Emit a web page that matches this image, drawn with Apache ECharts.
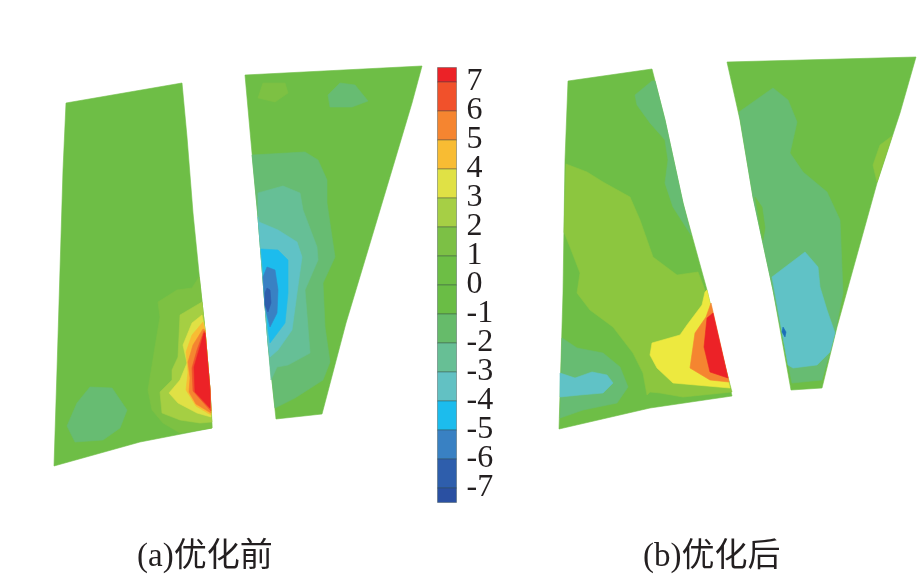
<!DOCTYPE html>
<html><head><meta charset="utf-8">
<style>html,body{margin:0;padding:0;background:#fff}#c{width:922px;height:576px}</style>
<script src="https://cdn.jsdelivr.net/npm/echarts@6/dist/echarts.min.js"></script>
</head><body><div id="c"></div>
<script>
// Contour colours by level
const cBase='#6EBE46', c1='#7DC143', c1b='#8CC63F', c2='#A5CF43', c3='#E0E145', c3b='#EDE93F',
      c4='#F8BC33', c5='#F58530', c6='#F1512B', c7='#EC2227',
      m2='#67BC72', m3='#66BF96', m4='#60C2C6', m5='#1CBCED', m6='#3981C3', m7='#2E5EAC';

// Colour bar
const cellEdges=[7.5,7,6,5,4,3,2,1,0,-1,-2,-3,-4,-5,-6,-7,-7.5];
const cellColors=['#EC2227','#F1512B','#F58530','#F8BC33','#E0E145','#A6CF45','#7CC045','#6DBE45','#6ABD45','#66BB6A','#67BF95','#62C1C3','#1CBCED','#3981C3','#2E5EAC','#2A50A2'];
const tickLabels=[7,6,5,4,3,2,1,0,-1,-2,-3,-4,-5,-6,-7];
const captions=['(a)优化前','(b)优化后'];

// Panel (a), left blade: contour regions as [x,y] in picture units
const a1Outline=[[66,103],[182,83],[187,137],[193,213],[200,283],[205,330],[208,367],[210,390],[212,428],[140,442],[54,466],[57,370],[60,270],[63,170]];
const a1M2=[[90,387],[112,388],[127,410],[120,428],[103,440],[75,442],[67,426],[77,403]];
const a1L1=[[199,277],[192,288],[177,290],[158,302],[160,317],[155,347],[148,390],[152,410],[163,423],[180,433],[212,428],[210,390],[205,330],[200,283]];
const a1L2=[[202,302],[180,315],[178,357],[172,370],[172,380],[160,392],[162,413],[180,420],[200,423],[212,422],[210,390],[205,330]];
const a1L3=[[202,315],[192,323],[183,345],[187,363],[180,380],[169,393],[178,403],[197,413],[211,417],[210,390],[205,330]];
const a1L4=[[203,322],[192,335],[186,352],[188,372],[186,390],[196,406],[211,415],[210,390],[208,367],[205,330]];
const a1L5=[[203,329],[193,345],[188,362],[190,378],[189,392],[196,404],[211,413],[210,390],[208,367],[205,330]];
const a1L6=[[204,331],[197,350],[192,368],[193,391],[211,411],[210,390],[208,367],[205,332]];
const a1L7=[[204,333],[199,350],[194,367],[195,392],[210,408],[210,390],[208,367],[205,333]];

// Panel (a), right blade
const a2Outline=[[245,75],[422,66],[412,103],[395,160],[368,250],[346,323],[322,414],[276,419],[268,343],[258,217],[252,153]];
const a2L1=[[263,83],[285,83],[288,93],[275,102],[258,98]];
const a2M2Top=[[340,83],[355,85],[368,101],[352,107],[330,107],[328,95]];
const a2M2=[[252,155],[305,152],[318,160],[327,180],[327,203],[332,237],[335,257],[323,283],[325,327],[330,362],[323,380],[295,398],[275,408],[268,343],[258,217]];
const a2M3=[[258,193],[283,186],[300,193],[303,210],[317,247],[318,260],[305,290],[310,353],[288,365],[277,367],[271,380],[268,343],[258,217]];
const a2M4=[[259,222],[278,230],[297,242],[302,257],[297,293],[292,330],[278,350],[270,357],[268,343],[258,217]];
const a2M5=[[261,249],[278,250],[288,260],[288,293],[285,323],[270,343],[268,330],[261,249]];
const a2M6=[[267,267],[275,270],[278,290],[277,313],[270,327],[265,307],[263,277]];
const a2M7=[[267,288],[270,290],[271,303],[268,312],[265,305],[265,293]];

// Panel (b), left blade
const b1Outline=[[568,81],[652,69],[665,120],[683,203],[707,290],[732,396],[650,408],[559,429],[563,293],[565,160]];
const b1M2Top=[[652,81],[635,95],[637,105],[650,123],[665,140],[668,160],[665,183],[673,207],[691,235],[683,203],[665,120],[655,81]];
const b1L1=[[566,164],[587,172],[603,182],[630,197],[640,220],[653,257],[677,275],[698,272],[705,290],[732,392],[683,397],[660,393],[650,392],[647,395],[643,373],[633,353],[613,327],[590,310],[577,293],[580,273],[570,247],[564,232]];
const b1M2=[[562,338],[577,348],[603,353],[620,367],[628,387],[617,403],[583,410],[560,418]];
const b1M4=[[560,373],[575,378],[592,372],[607,375],[613,383],[603,393],[580,395],[560,397]];
const b1L3=[[705,292],[702,305],[687,325],[680,335],[652,343],[650,355],[657,368],[673,383],[730,388],[707,290]];
const b1L5=[[711,303],[706,317],[695,333],[690,368],[710,380],[729,382]];
const b1L7=[[713,313],[707,318],[704,347],[710,372],[728,378]];

// Panel (b), right blade
const b2Outline=[[727,62],[916,57],[900,113],[877,183],[837,327],[822,388],[791,390],[773,290],[753,197],[740,120]];
const b2M2=[[773,88],[788,100],[797,122],[790,153],[803,172],[827,192],[840,220],[843,293],[835,333],[822,380],[792,383],[773,290],[753,197],[739,112]];
const b2Strip=[[755,197],[762,207],[765,228],[763,240],[761,232]];
const b2M4=[[805,252],[818,267],[820,287],[827,310],[835,333],[830,352],[817,365],[793,368],[788,365],[772,277]];
const b2Spot=[[783,327],[786,332],[785,337],[782,332]];
const b2L1=[[892,136],[880,145],[873,165],[877,182]];

const regions=[
 [a1Outline,cBase],[a1M2,m2],[a1L1,c1],[a1L2,c2],[a1L3,c3],[a1L4,c4],[a1L5,c5],[a1L6,c6],[a1L7,c7],
 [a2Outline,cBase],[a2L1,c1],[a2M2Top,m2],[a2M2,m2],[a2M3,m3],[a2M4,m4],[a2M5,m5],[a2M6,m6],[a2M7,m7],
 [b1Outline,cBase],[b1M2Top,m2],[b1L1,c1b],[b1M2,m2],[b1M4,m4],[b1L3,c3b],[b1L5,c5],[b1L7,c7],
 [b2Outline,cBase],[b2M2,m2],[b2Strip,cBase],[b2M4,m4],[b2Spot,'#1A6DB8'],[b2L1,c1b]
];

const cells=cellColors.map((col,i)=>[cellEdges[i],cellEdges[i+1],col]);
const serif='"Liberation Serif","Noto Sans CJK SC",serif';
const chart=echarts.init(document.getElementById('c'),null,{renderer:'canvas'});
chart.setOption({
 animation:false,
 backgroundColor:'#fff',
 title:[
  {text:captions[0],left:137,top:541,padding:0,textStyle:{fontFamily:serif,fontSize:33,fontWeight:'normal',color:'#231F20'}},
  {text:captions[1],left:643,top:541,padding:0,textStyle:{fontFamily:serif,fontSize:33,fontWeight:'normal',color:'#231F20'}}
 ],
 grid:[
  {left:0,top:0,width:922,height:576},
  {left:437.5,top:53,width:19,height:464}
 ],
 xAxis:[
  {type:'value',gridIndex:0,min:0,max:922,show:false},
  {type:'value',gridIndex:1,min:0,max:1,show:false}
 ],
 yAxis:[
  {type:'value',gridIndex:0,min:0,max:576,inverse:true,show:false},
  {type:'value',gridIndex:1,min:-8,max:8,interval:1,
   axisLine:{show:false},axisTick:{show:false},splitLine:{show:false},position:'right',
   axisLabel:{show:true,margin:10,align:'left',padding:[3,0,0,0],fontFamily:serif,fontSize:32,color:'#231F20',
     formatter:v=>tickLabels.includes(v)?String(v):''}}
 ],
 series:[
  {type:'custom',xAxisIndex:0,yAxisIndex:0,coordinateSystem:'cartesian2d',silent:true,clip:false,
   data:regions.map((r,i)=>[i]),
   renderItem:(p,api)=>{
     const r=regions[p.dataIndex];
     return {type:'polygon',shape:{points:r[0].map(q=>api.coord(q))},
       style:{fill:r[1],stroke:r[1],lineWidth:0.6}};
   }},
  {type:'custom',xAxisIndex:1,yAxisIndex:1,coordinateSystem:'cartesian2d',silent:true,clip:false,
   data:cells.map((c,i)=>[i,c[0],c[1]]),
   renderItem:(p,api)=>{
     const c=cells[p.dataIndex];
     const a=api.coord([0,c[0]]), b=api.coord([1,c[1]]);
     return {type:'rect',shape:{x:a[0],y:a[1],width:b[0]-a[0],height:b[1]-a[1]},
       style:{fill:c[2],stroke:'rgba(50,70,70,0.4)',lineWidth:1}};
   }}
 ]
});
</script></body></html>
